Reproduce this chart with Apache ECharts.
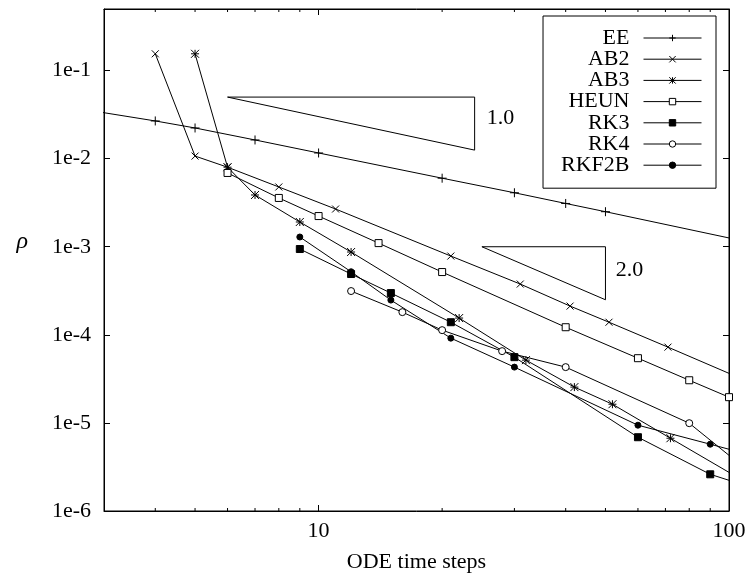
<!DOCTYPE html>
<html>
<head>
<meta charset="utf-8">
<script src="https://cdn.jsdelivr.net/npm/echarts@6/dist/echarts.min.js"></script>
<style>
  html, body { margin: 0; padding: 0; background: #fff; }
  #chart { width: 752px; height: 578px; }
</style>
</head>
<body>
<div id="chart"></div>
<script>
// values (log-log); first/last points of some series lie outside the axes and get clipped
const eeSteps = [2, 4, 5, 7, 10, 20, 30, 40, 50, 120];
const eeErr = [0.045, 0.0268, 0.0223, 0.0163, 0.0116, 0.0060, 0.0041, 0.0031, 0.0025, 0.00105];

const ab2Steps = [4, 5, 6, 8, 11, 21, 31, 41, 51, 71, 101];
const ab2Err = [0.155, 0.0107, 0.0080, 0.00477, 0.00268, 0.000784, 0.000377, 0.000212, 0.000139, 7.25e-5, 3.58e-5];

const ab3Steps = [5, 6, 7, 9, 12, 22, 32, 42, 52, 72, 102];
const ab3Err = [0.155, 0.0080, 0.00387, 0.00191, 0.000871, 0.000155, 5.16e-5, 2.55e-5, 1.63e-5, 6.7e-6, 2.6e-6];

const heunSteps = [6, 8, 10, 14, 20, 40, 60, 80, 100];
const heunErr = [0.00688, 0.00358, 0.00223, 0.00110, 0.000516, 0.000122, 5.43e-5, 3.05e-5, 1.96e-5];

const rk3Steps = [9, 12, 15, 21, 30, 60, 90, 120];
const rk3Err = [0.000942, 0.000490, 0.000298, 0.000139, 5.58e-5, 6.88e-6, 2.61e-6, 1.7e-6];

const rk4Steps = [12, 16, 20, 28, 40, 80, 160];
const rk4Err = [0.000314, 0.000181, 0.000113, 6.53e-5, 4.30e-5, 9.93e-6, 7.3e-7];

const rkf2bSteps = [9, 12, 15, 21, 30, 60, 90, 120];
const rkf2bErr = [0.00129, 0.000520, 0.000248, 9.17e-5, 4.30e-5, 9.42e-6, 5.73e-6, 4.0e-6];

// slope triangles
const tri1X = [6, 24, 24, 6];
const tri1Y = [0.05, 0.05, 0.0125, 0.05];
const tri2X = [25, 50, 50, 25];
const tri2Y = [0.001, 0.001, 0.00025, 0.001];
const slopeText = ['1.0', '2.0'];
const slopeTextX = [25.7, 53.0];
const slopeTextY = [0.029, 0.000543];

const xMin = 3, xMax = 100;
const yMin = 1e-6, yMax = 0.5;
const minorTicks = [4, 5, 6, 7, 8, 9, 20, 30, 40, 50, 60, 70, 80, 90];

const FONT = 'Liberation Serif';
const PLUS = 'path://M0,5L10,5M5,0L5,10';
const CROSS = 'path://M0,0L10,10M10,0L0,10';
const STAR = 'path://M0,5L10,5M5,0L5,10M0,0L10,10M10,0L0,10';
const BOX = 'path://M0,0L10,0L10,10L0,10Z';

const zip = (xs, ys) => xs.map((x, i) => [x, ys[i]]);

function lineSeries(name, xs, ys, symbol, size, fill) {
    return {
        name: name,
        type: 'line',
        data: zip(xs, ys),
        symbol: symbol,
        symbolSize: size,
        showAllSymbol: true,
        clip: true,
        lineStyle: {color: '#000', width: 1},
        itemStyle: {color: fill, borderColor: '#000', borderWidth: 1},
        emphasis: {disabled: true}
    };
}

function isDecade(v) {
    const l = Math.log10(v);
    return Math.abs(l - Math.round(l)) < 1e-6;
}

const axisCommon = {
    type: 'log',
    logBase: 10,
    axisLine: {show: true, onZero: false, lineStyle: {color: '#000', width: 1}},
    axisTick: {inside: true, length: 6, lineStyle: {color: '#000', width: 1}},
    splitLine: {show: false},
    minorTick: {show: false}
};

const chart = echarts.init(document.getElementById('chart'));

chart.setOption({
    animation: false,
    backgroundColor: '#fff',
    grid: {left: 104, right: 23, top: 9, bottom: 67, show: true, borderColor: '#000', borderWidth: 1},
    xAxis: [
        Object.assign({}, axisCommon, {
            position: 'bottom', min: xMin, max: xMax,
            axisLabel: {
                margin: 9, color: '#000', fontFamily: FONT, fontSize: 22,
                formatter: v => isDecade(v) ? String(Math.round(v)) : ''
            },
            name: 'ODE time steps', nameLocation: 'middle', nameGap: 40,
            nameTextStyle: {color: '#000', fontFamily: FONT, fontSize: 22}
        }),
        Object.assign({}, axisCommon, {
            position: 'top', min: xMin, max: xMax, axisLabel: {show: false}
        })
    ],
    yAxis: [
        Object.assign({}, axisCommon, {
            position: 'left', min: yMin, max: yMax,
            axisLabel: {
                margin: 13, color: '#000', fontFamily: FONT, fontSize: 22,
                formatter: v => isDecade(v) ? '1e' + Math.round(Math.log10(v)) : ''
            },
            name: 'ρ', nameLocation: 'middle', nameRotate: 0, nameGap: 76,
            nameTextStyle: {color: '#000', fontFamily: FONT, fontSize: 24, fontStyle: 'italic',
                verticalAlign: 'bottom', lineHeight: 36}
        }),
        Object.assign({}, axisCommon, {
            position: 'right', min: yMin, max: yMax, axisLabel: {show: false}
        })
    ],
    legend: {
        data: ['EE', 'AB2', 'AB3', 'HEUN', 'RK3', 'RK4', 'RKF2B'],
        orient: 'vertical',
        align: 'right',
        right: 36,
        top: 16,
        padding: [11, 14, 12, 18],
        itemWidth: 58,
        itemHeight: 8,
        itemGap: -0.8,
        borderColor: '#000',
        borderWidth: 1,
        borderRadius: 0,
        backgroundColor: '#fff',
        selectedMode: false,
        itemStyle: {borderWidth: 1},
        lineStyle: {width: 1},
        textStyle: {color: '#000', fontFamily: FONT, fontSize: 22, lineHeight: 20.3, padding: [0, 9, 0, 0]}
    },
    series: [
        lineSeries('EE', eeSteps, eeErr, PLUS, 9, '#000'),
        lineSeries('AB2', ab2Steps, ab2Err, CROSS, 7, '#000'),
        lineSeries('AB3', ab3Steps, ab3Err, STAR, 8, '#000'),
        lineSeries('HEUN', heunSteps, heunErr, BOX, 7, '#fff'),
        lineSeries('RK3', rk3Steps, rk3Err, 'rect', 7, '#000'),
        lineSeries('RK4', rk4Steps, rk4Err, 'circle', 7, '#fff'),
        lineSeries('RKF2B', rkf2bSteps, rkf2bErr, 'circle', 6, '#000'),
        {
            name: 'tri1', type: 'line', data: zip(tri1X, tri1Y), symbol: 'none', silent: true,
            lineStyle: {color: '#000', width: 1}
        },
        {
            name: 'tri2', type: 'line', data: zip(tri2X, tri2Y), symbol: 'none', silent: true,
            lineStyle: {color: '#000', width: 1}
        },
        {
            // slope labels next to the triangles
            name: 'slopes', type: 'custom', silent: true, z: 5,
            data: slopeText.map((t, i) => [slopeTextX[i], slopeTextY[i]]),
            renderItem: function (params, api) {
                const p = api.coord([api.value(0), api.value(1)]);
                return {
                    type: 'text',
                    x: p[0], y: p[1],
                    style: {
                        text: slopeText[params.dataIndex],
                        fill: '#000',
                        font: '22px "Liberation Serif"',
                        textAlign: 'left',
                        textVerticalAlign: 'middle'
                    }
                };
            }
        },
        {
            name: 'minorTicks', type: 'custom', silent: true, z: 5,
            data: minorTicks.map(v => [v, yMin]),
            renderItem: function (params, api) {
                const v = api.value(0);
                const b = api.coord([v, yMin]);
                const t = api.coord([v, yMax]);
                const st = {stroke: '#000', lineWidth: 1};
                return {
                    type: 'group',
                    children: [
                        {type: 'line', shape: {x1: b[0], y1: b[1], x2: b[0], y2: b[1] - 3}, style: st},
                        {type: 'line', shape: {x1: t[0], y1: t[1], x2: t[0], y2: t[1] + 3}, style: st}
                    ]
                };
            }
        }
    ]
});
</script>
</body>
</html>
